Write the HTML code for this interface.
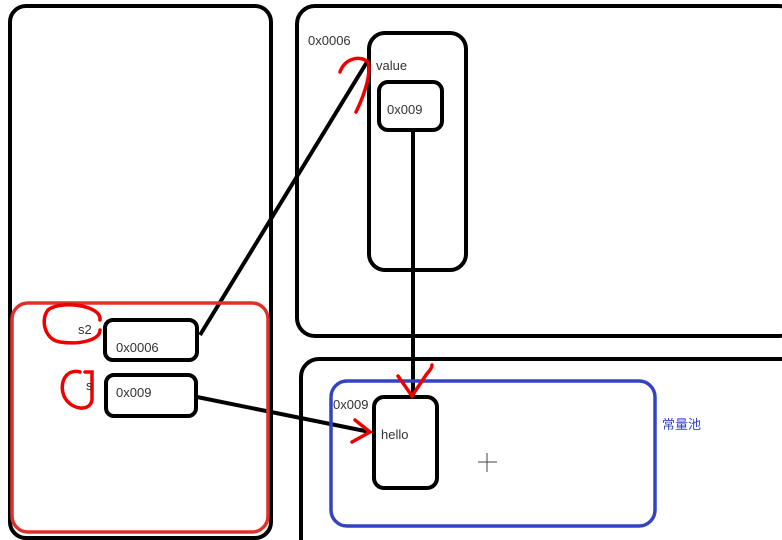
<!DOCTYPE html>
<html><head><meta charset="utf-8"><style>
html,body{margin:0;padding:0;background:#fff;}
svg{display:block;}
text{font-family:"Liberation Sans","Noto Sans CJK SC",sans-serif;font-size:13px;fill:#333;}
</style></head><body>
<svg width="782" height="540" viewBox="0 0 782 540" xmlns="http://www.w3.org/2000/svg">
<g fill="none" stroke="#000" stroke-width="4">
<rect x="10" y="6" width="261" height="532" rx="16"/>
<rect x="297" y="6" width="500" height="330" rx="18"/>
<rect x="301" y="359" width="500" height="200" rx="18"/>
<rect x="369" y="33" width="97" height="237" rx="16"/>
<rect x="379" y="82" width="63" height="48" rx="9"/>
<rect x="105" y="320" width="92" height="40" rx="8"/>
<rect x="106" y="375" width="90" height="41" rx="8"/>
<rect x="374" y="397" width="63" height="91" rx="10"/>
<line x1="200" y1="335" x2="367" y2="62"/>
<line x1="197" y1="397" x2="370" y2="432"/>
<line x1="413" y1="130" x2="413" y2="395"/>
</g>
<rect x="12" y="303" width="256" height="229" rx="16" fill="none" stroke="#e0302a" stroke-width="3.5"/>
<rect x="331" y="381" width="324" height="145" rx="16" fill="none" stroke="#3444c0" stroke-width="3.5"/>
<g fill="none" stroke="#e00" stroke-width="3.5" stroke-linecap="round">
<path d="M100 320 C102 305,60 300,48 310 C40 320,45 340,60 342 C80 345,100 340,100 330"/>
<path d="M80 372 C65 368,58 385,65 398 C72 410,90 412,92 400 L92 372 L85 372"/>
<path d="M340 72 C345 58,360 55,368 62 C372 75,362 100,356 112"/>
<path d="M355 420 L370 432 L352 442"/>
<path d="M398 376 L412 396 L426 375 C430 370,432 368,432 365"/>
</g>
<text x="78" y="334">s2</text>
<text x="116" y="352">0x0006</text>
<text x="86" y="390">s</text>
<text x="116" y="397">0x009</text>
<text x="308" y="45">0x0006</text>
<text x="376" y="70">value</text>
<text x="387" y="114">0x009</text>
<text x="333" y="409">0x009</text>
<text x="381" y="439">hello</text>
<text x="662" y="429" style="fill:#3444c0">常量池</text>
<g stroke="#444" stroke-width="1">
<line x1="478" y1="462" x2="497" y2="462"/><line x1="487" y1="453" x2="487" y2="472"/>
</g>
</svg>
</body></html>
